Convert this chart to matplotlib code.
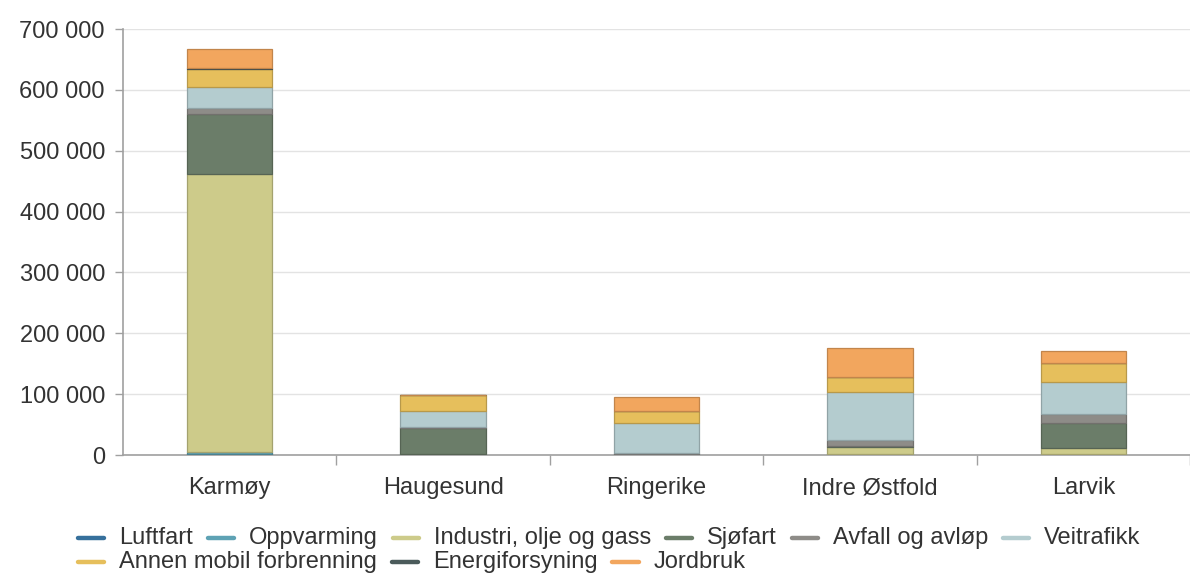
import numpy as np
import matplotlib
matplotlib.use("Agg")
import matplotlib.pyplot as plt
from matplotlib.lines import Line2D
from matplotlib.ticker import FuncFormatter, MultipleLocator
from matplotlib.colors import to_rgb

plt.rcParams['font.family'] = ['Liberation Sans', 'DejaVu Sans']

# ── Data ──────────────────────────────────────────────────────
kommuner = ['Karmøy', 'Haugesund', 'Ringerike', 'Indre Østfold', 'Larvik']
sektorer = ['Luftfart', 'Oppvarming', 'Industri, olje og gass', 'Sjøfart',
            'Avfall og avløp', 'Veitrafikk', 'Annen mobil forbrenning',
            'Energiforsyning', 'Jordbruk']

luftfart      = [1500,    500,   500,   500,   500]
oppvarming    = [3000,   1000,  1000,  1500,  1500]
industri      = [458000,  500,   500, 10800,  9000]
sjofart       = [98600, 43000,   300,  1500, 41100]
avfall        = [9900,   1500,   500,  9900, 15300]
veitrafikk    = [32900, 25800, 49300, 79000, 53100]
annen_mobil   = [30200, 25600, 20200, 24600, 30200]
energi        = [1500,      0,     0,     0,     0]
jordbruk      = [31200,   500, 23500, 47500, 20700]

serier = [luftfart, oppvarming, industri, sjofart, avfall,
          veitrafikk, annen_mobil, energi, jordbruk]
farger = ['#36709c', '#5ea2b4', '#cdcb8a', '#6b7d69', '#8e8c88',
          '#b4cccf', '#e6bf5c', '#4b5b5b', '#f2a65e']

FS = 17
W, H = 1190, 573
fig = plt.figure(figsize=(W / 100, H / 100), dpi=100)
ax = fig.add_axes([123 / W, (H - 455) / H, (W - 123) / W, 426 / H])

x = np.arange(len(kommuner))
bunn = np.zeros(len(kommuner))
for verdier, farge in zip(serier, farger):
    v = np.array(verdier, dtype=float)
    kant = tuple(c * 0.8 for c in to_rgb(farge))
    ax.bar(x, v, width=0.40, bottom=bunn, color=farge, edgecolor=kant,
           linewidth=0.9, zorder=3)
    bunn += v

ax.set_xlim(-0.5, -0.5 + (W - 123) / 216)
ax.set_ylim(0, 700000)
ax.yaxis.set_major_locator(MultipleLocator(100000))
ax.yaxis.set_major_formatter(FuncFormatter(lambda v, p: f"{int(v):,}".replace(',', ' ')))
ax.grid(axis='y', color='#e3e3e3', linewidth=1, zorder=0)

ax.set_xticks(x)
ax.set_xticklabels(kommuner)
ax.set_xticks(np.arange(0.5, len(kommuner)), minor=True)
ax.tick_params(axis='x', which='major', length=0, pad=16, labelsize=FS, labelcolor='#333333')
ax.tick_params(axis='x', which='minor', length=7, width=1, color='#a0a0a0')
ax.tick_params(axis='y', length=6, width=1, color='#a0a0a0', pad=7,
               labelsize=FS, labelcolor='#333333')

for s in ['top', 'right']:
    ax.spines[s].set_visible(False)
for s in ['left', 'bottom']:
    ax.spines[s].set_color('#a0a0a0')
    ax.spines[s].set_linewidth(1.2)

# ── Legend (flowing, two rows) ───────────────────────────────
fig.canvas.draw()
renderer = fig.canvas.get_renderer()
rader = [sektorer[:6], sektorer[6:]]
rad_y = [538, 562]
start_x, strek, pad, avstand = 78, 26, 15, 15
idx = 0
for rad, ypix in zip(rader, rad_y):
    xpix = start_x
    yf = 1 - ypix / H
    for navn in rad:
        fig.add_artist(Line2D([xpix / W, (xpix + strek) / W], [yf, yf],
                              color=farger[idx], lw=3.2, solid_capstyle='round'))
        t = fig.text((xpix + strek + pad) / W, yf, navn, fontsize=FS,
                     color='#333333', va='center', ha='left')
        bb = t.get_window_extent(renderer=renderer)
        xpix = xpix + strek + pad + bb.width + avstand
        idx += 1

fig.savefig('out.png', dpi=100)
